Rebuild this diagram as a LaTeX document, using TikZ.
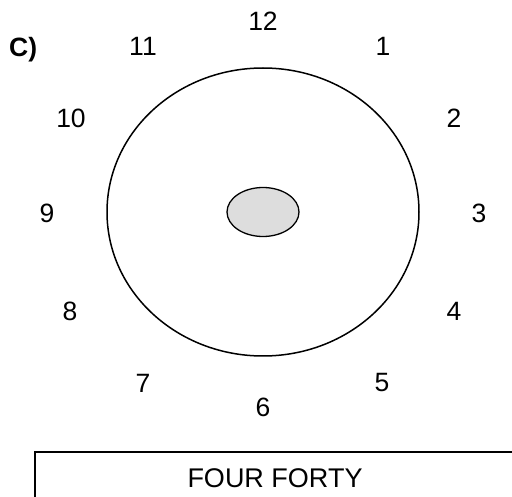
\documentclass[tikz,border=0pt]{standalone}
\usepackage{fontspec}
\setmainfont{Liberation Sans}
\usetikzlibrary{positioning,shapes.geometric}

\begin{document}
\begin{tikzpicture}[x=1pt, y=-1pt,
face/.style={draw, ellipse, line width=1.5pt, minimum width=312pt, minimum height=288pt, inner sep=0pt},
hub/.style={draw, ellipse, line width=1.3pt, fill=gray!27, minimum width=72pt, minimum height=49pt, inner sep=0pt},
num/.style={font=\fontsize{26.5}{31}\selectfont, inner sep=0pt},
answer/.style={draw, line width=2pt, font=\fontsize{27}{31}\selectfont, minimum width=480pt, minimum height=52pt, inner sep=0pt}
]
\useasboundingbox (0,0) rectangle (512,497);
\clip (0,0) rectangle (512,497);
\node[face] (face) at (263,212) {};
\node[hub] (hub) at (263,212) {};
\node[num, font=\fontsize{26.5}{31}\selectfont\bfseries, anchor=base west] (part) at (9,57) {C)};
\node[num] (n12) at (263,21) {12};
\node[num] (n1) at (383,46) {1};
\node[num] (n2) at (454,118) {2};
\node[num] (n3) at (479,213) {3};
\node[num] (n4) at (454,311) {4};
\node[num] (n5) at (382,383) {5};
\node[num] (n6) at (263,407) {6};
\node[num] (n7) at (143,383) {7};
\node[num] (n8) at (70,311) {8};
\node[num] (n9) at (47,213) {9};
\node[num] (n10) at (71,118) {10};
\node[num] (n11) at (143,46) {11};
\node[answer] (answer) at (275,478) {FOUR FORTY};
\end{tikzpicture}
\end{document}
